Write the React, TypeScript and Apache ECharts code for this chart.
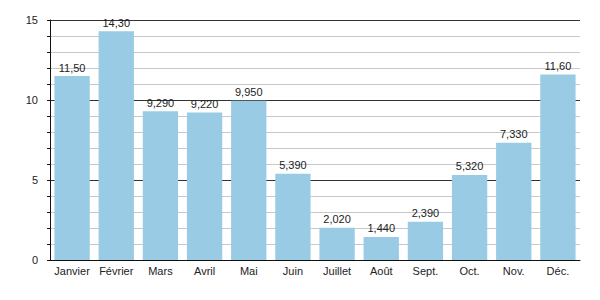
import React, { useEffect, useRef } from "react";
import * as echarts from "echarts";

const categories = ["Janvier", "Février", "Mars", "Avril", "Mai", "Juin", "Juillet", "Août", "Sept.", "Oct.", "Nov.", "Déc."];
const values = [11.5, 14.3, 9.29, 9.22, 9.95, 5.39, 2.02, 1.44, 2.39, 5.32, 7.33, 11.6];

export default function App() {
  const ref = useRef<HTMLDivElement>(null);
  useEffect(() => {
    const chart = echarts.init(ref.current!, null, { renderer: "svg" });
    chart.setOption({
      animation: false,
      textStyle: { fontFamily: "Liberation Sans, Arial, sans-serif" },
      grid: { left: 42, right: 12, top: 12, bottom: 32 },
      xAxis: {
        type: "category",
        data: categories,
        axisLine: { lineStyle: { color: "#111", width: 1 } },
        axisTick: { show: false },
        axisLabel: { color: "#222", fontSize: 11, margin: 5, interval: 0 },
      },
      yAxis: {
        type: "value",
        min: 0,
        max: 15,
        interval: 5,
        axisLine: { show: true, lineStyle: { color: "#111" } },
        axisTick: { show: true, length: 3, lineStyle: { color: "#111" } },
        minorTick: { show: true, splitNumber: 5, length: 3, lineStyle: { color: "#111" } },
        axisLabel: { color: "#222", fontSize: 11, margin: 12 },
        splitLine: { lineStyle: { color: "#333", width: 1 } },
        minorSplitLine: { show: true, lineStyle: { color: "#c8c8c8", width: 1 } },
      },
      series: [
        {
          type: "bar",
          data: values,
          barCategoryGap: "20%",
          itemStyle: { color: "#99cce4" },
          label: {
            show: true,
            position: "top",
            distance: 3,
            color: "#222",
            fontSize: 11,
            formatter: (p: any) => Number(p.value).toPrecision(4).replace(".", ","),
          },
        },
      ],
    });
    return () => chart.dispose();
  }, []);
  return <div ref={ref} style={{ width: 584, height: 284 }} />;
}
